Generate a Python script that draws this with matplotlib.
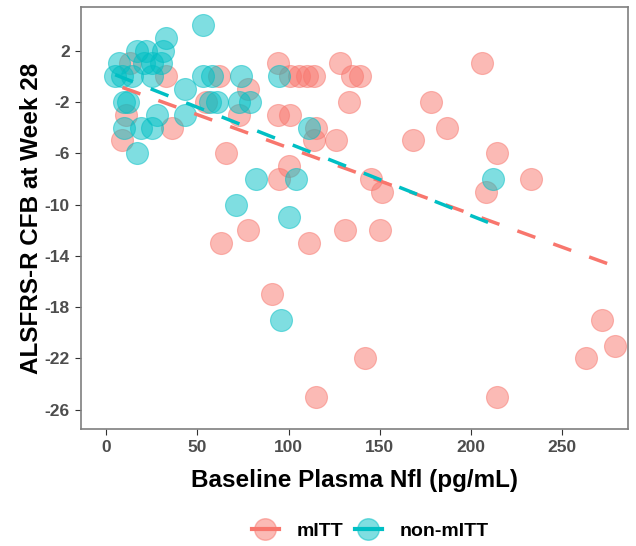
import numpy as np
import matplotlib.pyplot as plt
from matplotlib.lines import Line2D
from matplotlib.colors import to_rgba

plt.rcParams['font.family'] = ['Liberation Sans', 'DejaVu Sans']
plt.rcParams['axes.unicode_minus'] = False

# baseline plasma NfL (pg/mL) and ALSFRS-R change from baseline at week 28
mitt_nfl = [13, 33, 11, 36, 9, 62, 55, 78, 73, 66, 94, 101, 106, 110, 114,
            94, 101, 115, 114, 100, 95, 78, 63, 111, 91, 115, 128, 135, 139,
            133, 126, 145, 151, 131, 150, 142, 168, 178, 187, 206, 214, 208,
            233, 263, 272, 279, 214]
mitt_cfb = [1, 0, -3, -4, -5, 0, -2, -1, -3, -6, 1, 0, 0, 0, 0,
            -3, -3, -4, -5, -7, -8, -12, -13, -13, -17, -25, 1, 0, 0,
            -2, -5, -8, -9, -12, -12, -22, -5, -2, -4, 1, -6, -9,
            -8, -22, -19, -21, -25]

non_nfl = [53, 33, 17, 22, 31, 7, 21, 25, 30, 5, 9, 14, 25, 43, 10, 12,
           28, 43, 10, 19, 25, 17, 53, 58, 74, 57, 61, 73, 79, 95, 111,
           104, 82, 71, 100, 96, 212]
non_cfb = [4, 3, 2, 2, 2, 1, 1, 1, 1, 0, 0, 0, 0, -1, -2, -2,
           -3, -3, -4, -4, -4, -6, 0, 0, 0, -2, -2, -2, -2, 0, -4,
           -8, -8, -10, -11, -19, -8]

groups = ['mITT', 'non-mITT']
colors = ['#F8766D', '#00BFC4']
xticks = [0, 50, 100, 150, 200, 250]
yticks = [2, -2, -6, -10, -14, -18, -22, -26]

fig = plt.figure(figsize=(6.36, 5.46), dpi=100)
ax = fig.add_axes([0.1274, 0.2143, 0.8600, 0.7729])

series = [(mitt_nfl, mitt_cfb), (non_nfl, non_cfb)]
for (x, y), col in zip(series, colors):
    ax.scatter(x, y, s=250, color=to_rgba(col, 0.5),
               edgecolor=to_rgba(col, 0.5), linewidth=0.8, zorder=2)

# least-squares trend per group, drawn over its own x range
for (x, y), col in zip(series, colors):
    x = np.asarray(x, float)
    y = np.asarray(y, float)
    slope, icpt = np.polyfit(x, y, 1)
    xs = np.array([x.min(), x.max()])
    ax.plot(xs, icpt + slope * xs, color=col, linewidth=2.5,
            dashes=(5.5, 5.5), zorder=3)

ax.set_xlim(-13.7, 286)
ax.set_ylim(-27.5, 5.4)
ax.set_xticks(xticks)
ax.set_yticks(yticks)
ax.tick_params(length=4, width=0.8, color='#333333', labelsize=12.5,
               labelcolor='#4d4d4d', pad=4)
for lab in ax.get_xticklabels() + ax.get_yticklabels():
    lab.set_fontweight('bold')
for sp in ax.spines.values():
    sp.set_color('#7f7f7f')
    sp.set_linewidth(1.2)

ax.set_xlabel('Baseline Plasma Nfl (pg/mL)', fontsize=17.5,
              fontweight='bold', labelpad=10)
ax.set_ylabel('ALSFRS-R CFB at Week 28', fontsize=17.5,
              fontweight='bold', labelpad=1)

handles = [Line2D([0], [0], color=c, linewidth=3, marker='o', markersize=15.5,
                  markerfacecolor=to_rgba(c, 0.5),
                  markeredgecolor=to_rgba(c, 0.5))
           for c in colors]
fig.legend(handles, groups, loc='center', bbox_to_anchor=(0.582, 0.028),
           ncol=2, frameon=False, handlelength=1.4,
           handletextpad=0.9, columnspacing=0.6,
           prop={'weight': 'bold', 'size': 14})

fig.savefig('out.png', dpi=100)
